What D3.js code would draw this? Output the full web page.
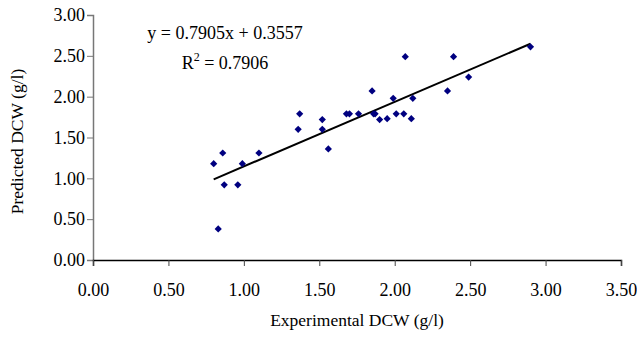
<!DOCTYPE html>
<html>
<head>
<meta charset="utf-8">
<script src="https://cdn.jsdelivr.net/npm/d3@7"></script>
<style>
	body { margin: 0; background: #fff; }
	text { font-family: "Liberation Serif", "Times New Roman", serif; fill: #000; }
</style>
</head>
<body>
<div id="chart"></div>
<script>
// experimental vs predicted DCW (g/l)
var experimental = [0.80, 0.86, 0.99, 1.10, 0.87, 0.96, 0.83, 1.37, 1.36, 1.52,
	1.52, 1.56, 1.68, 1.70, 1.76, 1.85, 1.86, 1.87, 1.90, 1.95,
	1.99, 2.01, 2.06, 2.07, 2.11, 2.12, 2.35, 2.39, 2.49, 2.90]
var predicted = [1.18, 1.31, 1.18, 1.31, 0.92, 0.92, 0.38, 1.79, 1.60, 1.72,
	1.60, 1.36, 1.79, 1.79, 1.79, 2.07, 1.79, 1.79, 1.72, 1.73,
	1.98, 1.79, 1.79, 2.49, 1.73, 1.98, 2.07, 2.49, 2.24, 2.61]

var slope = 0.7905
var intercept = 0.3557
var equationLabels = ["y = 0.7905x + 0.3557", "R", "2", " = 0.7906"]

var xTicks = [0, 0.5, 1, 1.5, 2, 2.5, 3, 3.5]
var yTicks = [0, 0.5, 1, 1.5, 2, 2.5, 3]

var width = 637
var height = 340
var margin = { top: 15, left: 93, right: 16, bottom: 80 }
var innerW = width - margin.left - margin.right
var innerH = height - margin.top - margin.bottom

var svg = d3.select("#chart")
	.append("svg")
	.attr("width", width)
	.attr("height", height)

var g = svg.append("g")
	.attr("transform", "translate(" + margin.left + "," + margin.top + ")")

var x = d3.scaleLinear().domain([0, 3.5]).range([0, innerW])
var y = d3.scaleLinear().domain([0, 3]).range([innerH, 0])

// y axis (grey line, like excel)
var yAxis = g.append("g")
	.call(d3.axisLeft(y).tickValues(yTicks).tickFormat(d3.format(".2f")).tickSize(6).tickPadding(2))
yAxis.select(".domain").attr("stroke", "#777").attr("stroke-width", 1.5)
yAxis.selectAll(".tick line").attr("stroke", "#777")
yAxis.selectAll("text")
	.style("font-size", "18px")
	.style("font-family", "Liberation Serif")
	.attr("fill", "#000")

var xAxis = g.append("g")
	.attr("transform", "translate(0," + innerH + ")")
	.call(d3.axisBottom(x).tickValues(xTicks).tickFormat(d3.format(".2f")).tickSize(6).tickPadding(17))
xAxis.select(".domain").attr("stroke", "#000").attr("stroke-width", 1.5)
xAxis.selectAll(".tick line").attr("stroke", "#444")
xAxis.selectAll("text")
	.style("font-size", "18px")
	.style("font-family", "Liberation Serif")
	.attr("fill", "#000")

// trend line
var xMin = d3.min(experimental)
var xMax = d3.max(experimental)
g.append("line")
	.attr("x1", x(xMin))
	.attr("y1", y(slope * xMin + intercept))
	.attr("x2", x(xMax))
	.attr("y2", y(slope * xMax + intercept))
	.attr("stroke", "#000")
	.attr("stroke-width", 2)

// points
var diamond = d3.symbol().type(d3.symbolSquare).size(26)
g.selectAll(".pt")
	.data(experimental)
	.enter().append("path")
	.attr("class", "pt")
	.attr("d", diamond)
	.attr("transform", function(d, i) {
		return "translate(" + x(d) + "," + y(predicted[i]) + ") rotate(45)"
	})
	.attr("fill", "#000080")

// equation
svg.append("text")
	.attr("x", 225)
	.attr("y", 39)
	.attr("text-anchor", "middle")
	.style("font-size", "18px")
	.text(equationLabels[0])

var r2 = svg.append("text")
	.attr("x", 225)
	.attr("y", 69)
	.attr("text-anchor", "middle")
	.style("font-size", "18px")
r2.append("tspan").text(equationLabels[1])
r2.append("tspan").attr("dy", -8).style("font-size", "12px").text(equationLabels[2])
r2.append("tspan").attr("dy", 8).text(equationLabels[3])

// axis titles
svg.append("text")
	.attr("x", margin.left + innerW / 2)
	.attr("y", 326)
	.attr("text-anchor", "middle")
	.style("font-size", "17.5px")
	.text("Experimental DCW (g/l)")

svg.append("text")
	.attr("transform", "translate(23," + (margin.top + innerH / 2 + 4) + ") rotate(-90)")
	.attr("text-anchor", "middle")
	.style("font-size", "17.5px")
	.text("Predicted DCW (g/l)")
</script>
</body>
</html>
